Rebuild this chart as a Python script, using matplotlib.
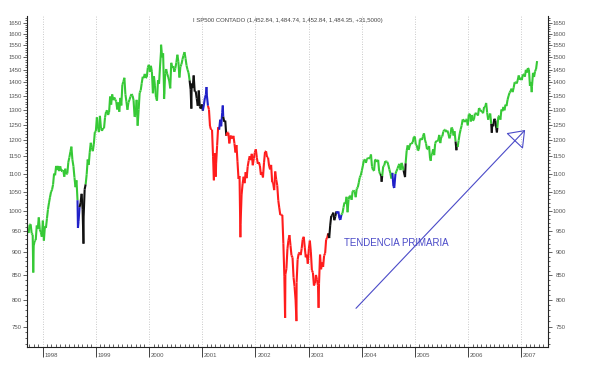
import numpy as np
import pandas as pd
import matplotlib
matplotlib.use('Agg')
import matplotlib.pyplot as plt
import matplotlib.dates as mdates
import matplotlib.transforms as mtransforms
from matplotlib.collections import LineCollection
from matplotlib.ticker import FixedLocator, NullFormatter, FuncFormatter

plt.rcParams['font.family'] = ['Liberation Sans', 'DejaVu Sans']

# ---------------- data (weekly Friday closes) ----------------
close_1997 = [950, 945, 965, 966, 944, 941, 915, 927, 928, 963, 955, 983, 953, 947, 936]
close_1998 = [975, 927, 961, 957, 980, 1003, 1020, 1035, 1049, 1055, 1069, 1100, 1095,
              1122, 1110, 1122, 1107, 1121, 1108, 1108, 1110, 1091, 1114, 1098, 1100, 1133,
              1147, 1164, 1180, 1140, 1121, 1089, 1062, 1081, 1027, 973, 1009, 1020, 1044,
              1002, 984, 1056, 1070, 1098, 1141, 1125, 1163, 1192, 1177, 1166, 1188, 1226]
close_1999 = [1229, 1275, 1243, 1226, 1280, 1239, 1230, 1239, 1238, 1275, 1294, 1299, 1283,
              1293, 1348, 1319, 1356, 1335, 1345, 1337, 1330, 1302, 1327, 1294, 1343, 1316,
              1391, 1403, 1418, 1356, 1329, 1301, 1327, 1336, 1348, 1357, 1351, 1335, 1277,
              1282, 1336, 1247, 1301, 1362, 1370, 1397, 1422, 1417, 1433, 1417, 1421, 1458, 1469]
close_2000 = [1441, 1465, 1441, 1360, 1424, 1387, 1346, 1333, 1409, 1395, 1464, 1527, 1499,
              1516, 1357, 1434, 1452, 1433, 1421, 1406, 1378, 1477, 1457, 1464, 1441, 1455,
              1478, 1510, 1481, 1419, 1462, 1471, 1491, 1507, 1521, 1495, 1466, 1449, 1437,
              1408, 1374, 1396, 1379, 1427, 1366, 1367, 1341, 1315, 1370, 1312, 1305, 1320]
close_2001 = [1298, 1318, 1343, 1355, 1350, 1315, 1302, 1246, 1234, 1234, 1151, 1139, 1160,
              1128, 1183, 1242, 1234, 1267, 1245, 1292, 1277, 1260, 1264, 1214, 1225, 1224,
              1190, 1215, 1210, 1205, 1214, 1190, 1162, 1185, 1134, 1085, 1093, 966, 1041,
              1071, 1091, 1073, 1104, 1087, 1120, 1138, 1151, 1139, 1158, 1124, 1144, 1162]
close_2002 = [1172, 1146, 1128, 1133, 1122, 1096, 1104, 1089, 1131, 1164, 1166, 1148, 1147,
              1122, 1112, 1125, 1076, 1073, 1054, 1106, 1083, 1067, 1027, 1007, 989, 990,
              989, 921, 847, 852, 864, 908, 928, 940, 916, 893, 889, 846, 827,
              800, 835, 884, 897, 900, 894, 909, 930, 936, 912, 889, 895, 875]
close_2003 = [908, 927, 901, 861, 856, 829, 834, 851, 841, 829, 833, 895, 863,
              878, 868, 893, 898, 930, 933, 944, 933, 964, 987, 988, 995, 976,
              985, 998, 993, 998, 980, 977, 990, 993, 1008, 1021, 1018, 1036, 996,
              1029, 1038, 1039, 1028, 1051, 1053, 1050, 1035, 1058, 1061, 1074, 1089, 1095]
close_2004 = [1108, 1122, 1139, 1141, 1131, 1142, 1146, 1144, 1145, 1156, 1120, 1110, 1108,
              1141, 1139, 1134, 1140, 1107, 1098, 1095, 1093, 1121, 1123, 1136, 1135, 1134,
              1125, 1112, 1101, 1086, 1102, 1064, 1065, 1099, 1107, 1114, 1123, 1128, 1110,
              1131, 1122, 1109, 1095, 1130, 1167, 1184, 1170, 1182, 1191, 1189, 1194, 1210, 1212]
close_2005 = [1186, 1184, 1168, 1171, 1203, 1205, 1201, 1212, 1222, 1201, 1190, 1172,
              1173, 1182, 1143, 1152, 1157, 1172, 1154, 1190, 1198, 1196, 1201, 1217, 1191,
              1211, 1212, 1228, 1233, 1234, 1226, 1231, 1220, 1206, 1218, 1241, 1237, 1215, 1229,
              1196, 1186, 1179, 1199, 1220, 1235, 1248, 1268, 1265, 1259, 1267, 1268, 1248]
close_2006 = [1285, 1287, 1261, 1283, 1264, 1267, 1288, 1289, 1287, 1281, 1307, 1302, 1295,
              1295, 1289, 1311, 1310, 1325, 1291, 1267, 1280, 1288, 1253, 1252, 1245, 1270,
              1265, 1237, 1240, 1278, 1280, 1267, 1302, 1296, 1311, 1299, 1319, 1314, 1336,
              1350, 1362, 1368, 1377, 1364, 1380, 1401, 1400, 1396, 1409, 1427, 1410, 1418]
close_2007 = [1409, 1431, 1430, 1422, 1449, 1438, 1456, 1451, 1387, 1402, 1386, 1437,
              1421, 1443, 1452, 1484]

first_friday = ['1997-09-19', '1998-01-02', '1999-01-01', '2000-01-07', '2001-01-05',
                '2002-01-04', '2003-01-03', '2004-01-02', '2005-01-07', '2006-01-06',
                '2007-01-05']

# intraday extremes (spikes)
spike_dates = ['1997-10-28', '1998-08-31', '1998-10-08', '2000-03-24', '2000-04-14',
               '2000-10-18', '2001-01-30', '2001-03-22', '2001-04-04', '2001-05-22',
               '2001-09-20', '2002-07-24', '2002-10-10', '2003-03-11', '2004-05-17',
               '2004-08-12', '2004-10-25', '2005-04-20', '2005-10-13', '2006-06-13',
               '2006-07-18', '2007-03-14']
spike_values = [856, 957, 920, 1553, 1339, 1305, 1383, 1081, 1091, 1316,
                935, 766, 760, 785, 1077, 1060, 1090, 1137, 1169, 1224,
                1225, 1364]

# colour state periods of the indicator
period_start = ['1998-08-26', '1998-09-12', '2000-10-05', '2001-01-05', '2001-02-10',
                '2001-04-28', '2001-05-25', '2001-06-15', '2003-05-15', '2003-07-10',
                '2004-05-07', '2004-07-28', '2004-10-18', '2005-10-05', '2006-06-08']
period_end = ['1998-09-12', '1998-10-20', '2001-01-05', '2001-02-10', '2001-04-28',
              '2001-05-25', '2001-06-15', '2003-05-15', '2003-07-10', '2003-08-15',
              '2004-05-24', '2004-08-18', '2004-10-28', '2005-10-21', '2006-07-20']
period_state = ['blue', 'black', 'black', 'blue', 'red', 'blue', 'black', 'red',
                'black', 'blue', 'black', 'blue', 'black', 'black', 'black']

year_ticks = [1998, 1999, 2000, 2001, 2002, 2003, 2004, 2005, 2006, 2007]
y_ticks = list(range(750, 1651, 50))

title_text = 'I SP500 CONTADO (1,452.84, 1,484.74, 1,452.84, 1,484.35, +31,5000)'
annot_text = 'TENDENCIA PRIMARIA'

# ---------------- build series ----------------
yearly = [close_1997, close_1998, close_1999, close_2000, close_2001, close_2002,
          close_2003, close_2004, close_2005, close_2006, close_2007]
dates = []
vals = []
for start, v in zip(first_friday, yearly):
    d = pd.date_range(start, periods=len(v), freq='W-FRI')
    dates.extend(list(d))
    vals.extend(v)
dates.extend(pd.to_datetime(spike_dates))
vals.extend(spike_values)
s = pd.Series(vals, index=pd.DatetimeIndex(dates)).sort_index()

x = mdates.date2num(s.index.to_pydatetime())
y = s.values.astype(float)

palette = {'green': '#36c936', 'red': '#ff1c1c', 'blue': '#2020c8', 'black': '#111111'}
ps = mdates.date2num(pd.to_datetime(period_start).to_pydatetime())
pe = mdates.date2num(pd.to_datetime(period_end).to_pydatetime())

seg_colors = []
for i in range(len(x) - 1):
    xm = 0.5 * (x[i] + x[i + 1])
    c = 'green'
    for a, b, st in zip(ps, pe, period_state):
        if a <= xm < b:
            c = st
            break
    seg_colors.append(palette[c])

pts = np.column_stack([x, y])
segs = np.stack([pts[:-1], pts[1:]], axis=1)

# ---------------- figure ----------------
fig = plt.figure(figsize=(5.91, 3.79), dpi=100)
ax = fig.add_axes([27 / 591, 1 - 347 / 379, (548 - 27) / 591, (347 - 16) / 379])

lc = LineCollection(segs, colors=seg_colors, linewidths=1.5, capstyle='butt', joinstyle='miter')
ax.add_collection(lc)

P = 0.18


def _fwd(v):
    v = np.asarray(v, dtype=float)
    with np.errstate(divide='ignore', invalid='ignore'):
        return -np.power(np.clip(v, 1e-9, None), -P)


def _inv(u):
    u = np.asarray(u, dtype=float)
    with np.errstate(divide='ignore', invalid='ignore'):
        return np.power(np.clip(-u, 1e-12, None), -1.0 / P)


ax.set_yscale('function', functions=(_fwd, _inv))
ax.set_ylim(714, 1681)
ax.set_xlim(mdates.date2num(pd.Timestamp('1997-09-15')), mdates.date2num(pd.Timestamp('2007-07-04')))

ax.yaxis.set_major_locator(FixedLocator(y_ticks))
ax.yaxis.set_minor_locator(FixedLocator([v for v in range(720, 1680, 10) if v % 50]))
ax.yaxis.set_major_formatter(FuncFormatter(lambda v, p: f'{v:.0f}'))
ax.yaxis.set_minor_formatter(NullFormatter())

xt = [mdates.date2num(pd.Timestamp(f'{yr}-01-01')) for yr in year_ticks]
ax.set_xticks(xt)
ax.set_xticklabels([str(yr) for yr in year_ticks])
ax.xaxis.set_minor_locator(mdates.MonthLocator())

ax.spines['top'].set_visible(False)
for side in ['left', 'right', 'bottom']:
    ax.spines[side].set_linewidth(0.8)
    ax.spines[side].set_color('#222222')

ax.tick_params(axis='y', which='both', left=True, right=True, labelleft=True, labelright=True,
               direction='out', labelsize=4.3, labelcolor='#555555', color='#222222', width=0.5)
ax.tick_params(axis='y', which='major', length=3, pad=0.8)
ax.tick_params(axis='y', which='minor', length=1.5)
ax.tick_params(axis='x', which='major', direction='out', length=7, width=0.6, pad=-3.0,
               labelsize=4.3, labelcolor='#555555', color='#222222')
ax.tick_params(axis='x', which='minor', direction='in', length=2, width=0.5, color='#222222')

ax.grid(axis='x', which='major', linestyle=(0, (1, 2)), color='#b8b8b8', linewidth=0.6)

off_r = mtransforms.ScaledTranslation(9 / 72, 0, fig.dpi_scale_trans)
for t in ax.yaxis.get_major_ticks():
    t.label2.set_horizontalalignment('right')
    t.label2.set_transform(t.label2.get_transform() + off_r)
off_x = mtransforms.ScaledTranslation(1.3 / 72, 0, fig.dpi_scale_trans)
for t in ax.xaxis.get_major_ticks():
    t.label1.set_horizontalalignment('left')
    t.label1.set_verticalalignment('top')
    t.label1.set_transform(t.label1.get_transform() + off_x)

ax.text(0.5, 0.985, title_text, transform=ax.transAxes, ha='center', va='center',
        fontsize=4.3, color='#444444')

acol = '#4a4ac8'
ax.text(mdates.date2num(pd.Timestamp('2003-08-30')), 922, annot_text, ha='left', va='center',
        fontsize=7, color=acol)
ax.annotate('', xy=(mdates.date2num(pd.Timestamp('2007-01-28')), 1233),
            xytext=(mdates.date2num(pd.Timestamp('2003-11-23')), 784),
            arrowprops=dict(arrowstyle='-|>,head_length=1.0,head_width=0.75',
                            mutation_scale=10, fc='none', ec=acol, lw=0.8,
                            shrinkA=0, shrinkB=0))

fig.savefig('out.png', dpi=100)
